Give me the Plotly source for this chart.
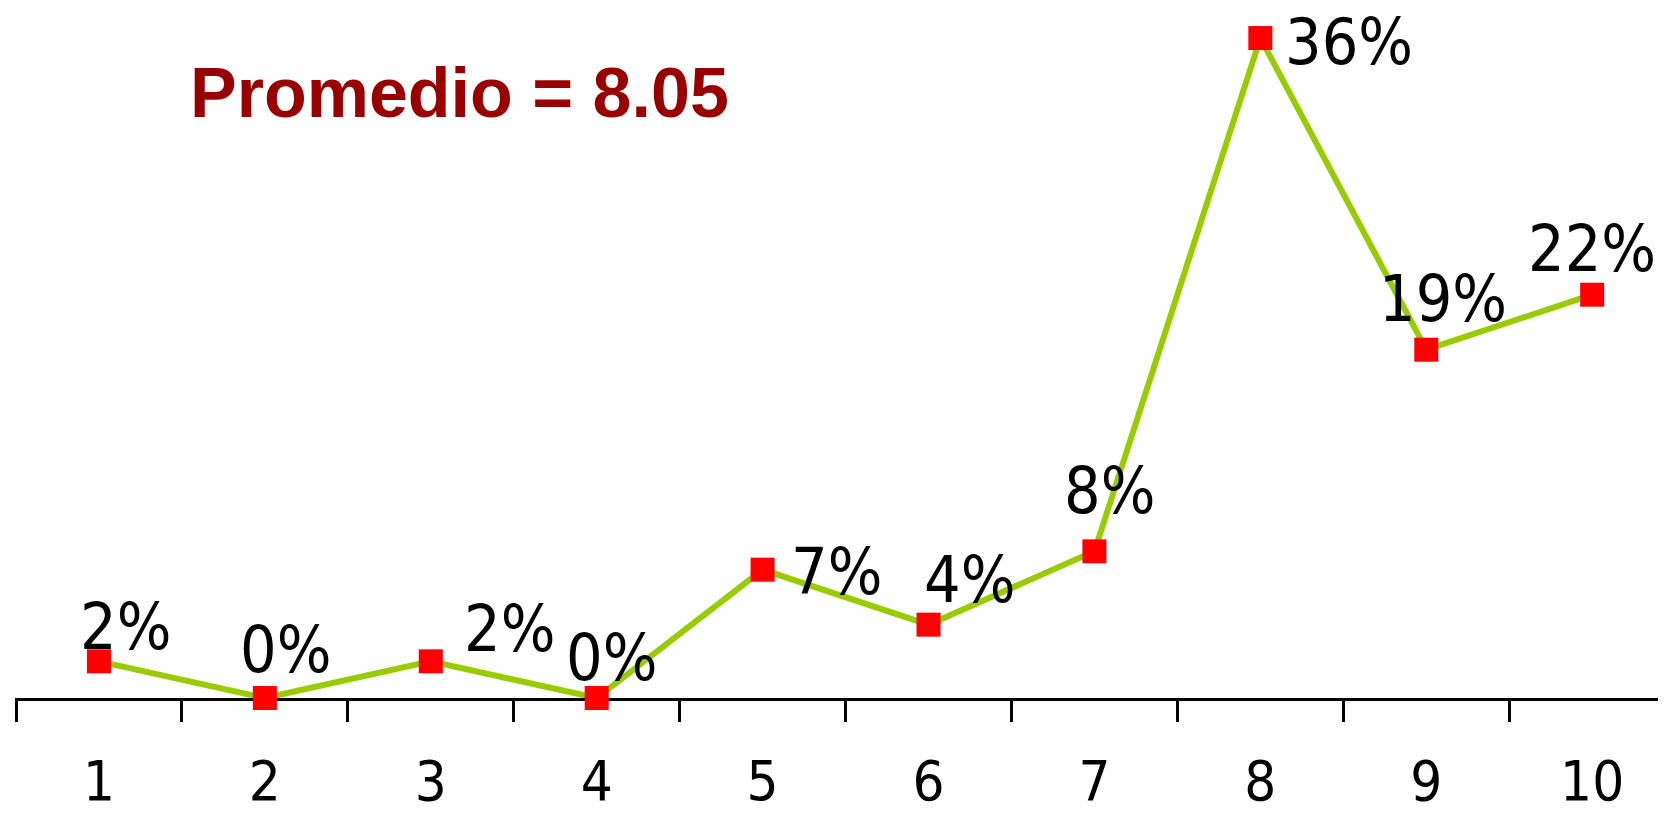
import plotly.graph_objects as go

categories = ["1", "2", "3", "4", "5", "6", "7", "8", "9", "10"]
values = [2, 0, 2, 0, 7, 4, 8, 36, 19, 22]
labels = [f"{v}%" for v in values]
title_text = "Promedio = 8.05"

# label offsets in px (style only)
label_dx = [27, 21, 79, 15, 74, 41, 15, 89, 17, 0]
label_dy = [34, 48, 32, 40, -2, 45, 60, -4, 51, 46]

NARROW = "Liberation Sans Narrow, Arial Narrow, DejaVu Sans Condensed, sans-serif"

fig = go.Figure()
fig.add_trace(go.Scatter(
    x=categories, y=values, mode="lines+markers",
    line=dict(color="#99CC00", width=6),
    marker=dict(symbol="square", size=24, color="#FF0000", line=dict(width=0)),
    cliponaxis=False, showlegend=False, hoverinfo="skip",
))

for i, (v, t, dx, dy) in enumerate(zip(values, labels, label_dx, label_dy)):
    fig.add_annotation(x=i, y=v, text=t, showarrow=False, xshift=dx, yshift=dy,
                       font=dict(family=NARROW, size=64, color="#000000"))

fig.add_annotation(xref="paper", yref="paper", x=0.1048, y=0.8764, xanchor="left", yanchor="middle",
                   text=title_text, showarrow=False,
                   font=dict(family="Liberation Sans, Arial, sans-serif", size=70, color="#990000", weight="bold"))

fig.update_xaxes(type="category", range=[-0.506, 9.445], showline=True, linecolor="#000000", linewidth=3,
                 ticks="outside", ticklen=21, tickwidth=3, tickcolor="#000000", tickson="boundaries",
                 showgrid=False, zeroline=False, layer="below traces", ticklabelstandoff=32,
                 automargin=False, tickfont=dict(family=NARROW, size=56, color="#000000"))
fig.update_yaxes(range=[0, 37.64], visible=False, showgrid=False, zeroline=False, automargin=False)

# page body adds 8px offset; figure sized to fill the rest of the 1666x814 window
fig.update_layout(width=1658, height=806, margin=dict(l=7, r=0, t=0, b=116),
                  paper_bgcolor="white", plot_bgcolor="white")

fig.write_html("out.html")
